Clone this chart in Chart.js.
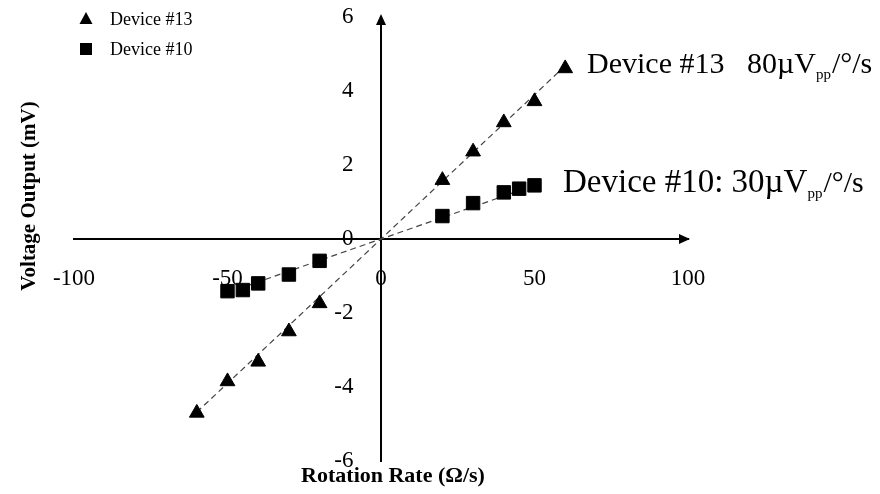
<!DOCTYPE html>
<html>
<head>
<meta charset="utf-8">
<title>Voltage output vs rotation rate</title>
<script src="https://cdn.jsdelivr.net/npm/chart.js@4.4.0/dist/chart.umd.min.js"></script>
<style>
  body { margin: 0; background: #fff; }
  #chart { display: block; }
</style>
</head>
<body>
<canvas id="chart" width="880" height="494"></canvas>
<script>
// Device #13 (triangles)
const rate13 = [-60, -50, -40, -30, -20, 20, 30, 40, 50, 60];
const volt13 = [-4.70, -3.85, -3.32, -2.50, -1.74, 1.59, 2.36, 3.15, 3.72, 4.61];
// Device #10 (squares)
const rate10 = [-50, -45, -40, -30, -20, 20, 30, 40, 45, 50];
const volt10 = [-1.41, -1.38, -1.20, -0.96, -0.59, 0.62, 0.97, 1.26, 1.36, 1.45];
// fitted lines
const fitRate13 = [-60, 60];
const fitVolt13 = [-4.68, 4.68];
const fitRate10 = [-50, 50];
const fitVolt10 = [-1.45, 1.45];
// ticks
const xTicks = [-100, -50, 0, 50, 100];
const yTicks = [-6, -4, -2, 0, 2, 4, 6];

const serif = '"Liberation Serif", "DejaVu Serif", serif';

const toPoints = (xs, ys) => xs.map((x, i) => ({ x: x, y: ys[i] }));

// centred axes don't need the side padding chart.js adds for their labels
const noEdgePad = (scale) => {
  scale.paddingTop = 0;
  scale.paddingBottom = 0;
  scale.paddingLeft = 0;
  scale.paddingRight = 0;
};

// arrows, axis titles, legend and the slope notes
const extras = {
  id: 'extras',
  afterDatasetsDraw(chart) {
    const ctx = chart.ctx;
    const xs = chart.scales.x, ys = chart.scales.y;
    const x0 = xs.getPixelForValue(0), y0 = ys.getPixelForValue(0);
    const area = chart.chartArea;
    ctx.save();
    ctx.fillStyle = '#000';

    // arrow heads
    ctx.beginPath();
    ctx.moveTo(area.right + 2, y0);
    ctx.lineTo(area.right - 9, y0 - 5);
    ctx.lineTo(area.right - 9, y0 + 5);
    ctx.closePath();
    ctx.fill();
    ctx.beginPath();
    ctx.moveTo(x0, area.top - 3);
    ctx.lineTo(x0 - 5, area.top + 8);
    ctx.lineTo(x0 + 5, area.top + 8);
    ctx.closePath();
    ctx.fill();

    // axis titles
    ctx.font = 'bold 22px ' + serif;
    ctx.textAlign = 'center';
    ctx.textBaseline = 'alphabetic';
    ctx.fillText('Rotation Rate (Ω/s)', 393, 482);
    ctx.save();
    ctx.translate(35, 196);
    ctx.rotate(-Math.PI / 2);
    ctx.font = 'bold 21px ' + serif;
    ctx.fillText('Voltage Output (mV)', 0, 0);
    ctx.restore();

    // legend
    ctx.textAlign = 'left';
    ctx.textBaseline = 'middle';
    ctx.font = '18px ' + serif;
    ctx.beginPath();
    ctx.moveTo(86, 12);
    ctx.lineTo(92.5, 24);
    ctx.lineTo(79.5, 24);
    ctx.closePath();
    ctx.fill();
    ctx.fillText(chart.data.datasets[0].label, 110, 20);
    ctx.fillRect(80, 43, 12, 12);
    ctx.fillText(chart.data.datasets[1].label, 110, 50);

    // slope notes
    ctx.textBaseline = 'alphabetic';
    const note = (x, y, size, main, sub, tail) => {
      ctx.font = size + 'px ' + serif;
      ctx.fillText(main, x, y);
      x += ctx.measureText(main).width;
      ctx.font = '15px ' + serif;
      ctx.fillText(sub, x, y + 6);
      x += ctx.measureText(sub).width + 1;
      ctx.font = '30px ' + serif;
      ctx.fillText(tail, x, y);
    };
    note(587, 73, 30, 'Device #13   80µV', 'pp', '/°/s');
    note(563, 192, 33, 'Device #10: 30µV', 'pp', '/°/s');
    ctx.restore();
  }
};

new Chart(document.getElementById('chart'), {
  type: 'scatter',
  data: {
    datasets: [
      {
        label: 'Device #13',
        data: toPoints(rate13, volt13),
        pointStyle: 'triangle',
        pointRadius: 8.5,
        backgroundColor: '#000',
        borderColor: '#000',
        borderWidth: 1,
        order: 1
      },
      {
        label: 'Device #10',
        data: toPoints(rate10, volt10),
        pointStyle: 'rect',
        pointRadius: 9.5,
        backgroundColor: '#000',
        borderColor: '#000',
        borderWidth: 1,
        order: 1
      },
      {
        label: 'fit13',
        data: toPoints(fitRate13, fitVolt13),
        showLine: true,
        pointRadius: 0,
        borderColor: '#444',
        borderWidth: 1.2,
        borderDash: [6, 4],
        order: 2
      },
      {
        label: 'fit10',
        data: toPoints(fitRate10, fitVolt10),
        showLine: true,
        pointRadius: 0,
        borderColor: '#444',
        borderWidth: 1.2,
        borderDash: [6, 4],
        order: 2
      }
    ]
  },
  options: {
    responsive: false,
    animation: false,
    layout: { padding: { left: 74, right: 192, top: 17, bottom: 33 } },
    plugins: { legend: { display: false }, tooltip: { enabled: false } },
    scales: {
      x: {
        type: 'linear',
        position: { y: 0 },
        min: -100,
        max: 100,
        afterBuildTicks: (axis) => { axis.ticks = xTicks.map(v => ({ value: v })); },
        afterFit: noEdgePad,
        grid: { display: false, drawTicks: false },
        border: { display: true, color: '#000', width: 2 },
        ticks: {
          color: '#000',
          padding: 26,
          maxRotation: 0,
          autoSkip: false,
          font: { family: serif, size: 23 }
        }
      },
      y: {
        type: 'linear',
        position: { x: 0 },
        min: -6,
        max: 6,
        afterBuildTicks: (axis) => { axis.ticks = yTicks.map(v => ({ value: v })); },
        afterFit: noEdgePad,
        grid: { display: false, drawTicks: false },
        border: { display: true, color: '#000', width: 2 },
        ticks: {
          color: '#000',
          padding: 0,
          autoSkip: false,
          font: { family: serif, size: 23 },
          // a centred y axis ignores tick padding, so the gap is made with spaces
          callback: (v) => v + '\u2002\u2002\u2009'
        }
      }
    }
  },
  plugins: [extras]
});
</script>
</body>
</html>
